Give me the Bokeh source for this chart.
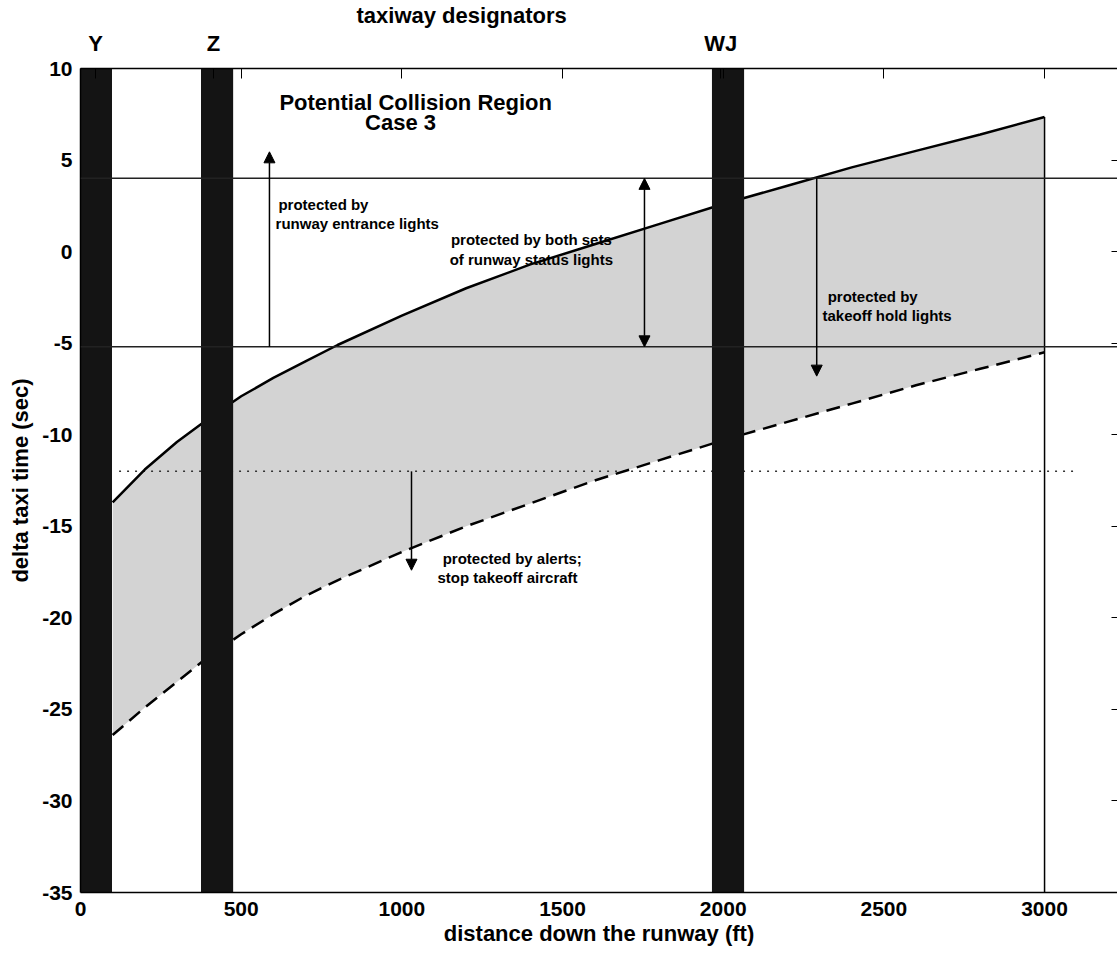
from bokeh.plotting import figure
from bokeh.models import (Range1d, LinearAxis, FixedTicker, Label, Arrow,
                          NormalHead, Span, Title)
from bokeh.embed import file_html
from bokeh.resources import INLINE

# ---------------- data ----------------
taxiway_names = ["Y", "Z", "WJ"]
taxiway_left = [-5, 375, 1965]
taxiway_right = [98, 475, 2065]
taxiway_label_x = [47, 414, 1992]

dist_ft = [100, 200, 300, 400, 500, 600, 700, 800, 1000, 1200, 1400,
           1600, 1800, 2000, 2200, 2400, 2600, 2800, 3000]
upper_sec = [-13.7, -11.9, -10.4, -9.1, -7.9, -6.9, -6.0, -5.1, -3.5, -2.0,
             -0.7, 0.4, 1.5, 2.6, 3.6, 4.6, 5.5, 6.4, 7.35]
lower_sec = [-26.4, -24.9, -23.5, -22.1, -20.9, -19.8, -18.8, -17.95, -16.4,
             -15.0, -13.75, -12.5, -11.4, -10.3, -9.3, -8.3, -7.3, -6.4, -5.5]

entrance_limit = 4.0
hold_limit = -5.2
alert_limit = -12.0
alert_line_x = [120, 3090]
runway_end = 3000

x_ticks = [0, 500, 1000, 1500, 2000, 2500, 3000]
y_ticks = [-35, -30, -25, -20, -15, -10, -5, 0, 5, 10]

arrow_x = [588, 1755, 2291, 1030]
arrow_y0 = [hold_limit, entrance_limit, entrance_limit, alert_limit]
arrow_y1 = [5.45, hold_limit, -6.8, -17.4]
arrow_both = [False, True, False, False]

# ---------------- figure ----------------
FONT = "Liberation Sans"
W, H = 1117, 956
p = figure(width=W, height=H, output_backend="svg", toolbar_location=None,
           x_range=Range1d(0, 3227), y_range=Range1d(-35, 10),
           min_border_left=80, min_border_right=0, min_border_top=66,
           min_border_bottom=64, x_axis_location=None, y_axis_location=None)
p.background_fill_color = "white"
p.border_fill_color = "white"
p.outline_line_color = None
p.xgrid.visible = False
p.ygrid.visible = False

p.title = Title(text="taxiway designators", align="left", offset=276,
                text_font=FONT, text_font_style="bold",
                text_font_size="22px", text_color="black", standoff=0)


def style_axis(ax):
    ax.axis_line_color = "black"
    ax.axis_line_width = 1.5
    ax.major_tick_line_color = "black"
    ax.major_tick_line_width = 1
    ax.minor_tick_line_color = None
    ax.major_label_text_font = FONT
    ax.major_label_text_font_style = "bold"
    ax.major_label_text_font_size = "21px"
    ax.major_label_text_color = "black"
    ax.major_tick_out = 0
    ax.axis_label_text_font = FONT
    ax.axis_label_text_font_style = "bold"
    ax.axis_label_text_font_size = "22px"
    ax.axis_label_text_color = "black"


bottom = LinearAxis(ticker=FixedTicker(ticks=x_ticks),
                    axis_label="distance down the runway (ft)")
style_axis(bottom)
bottom.major_tick_in = 0
bottom.major_label_standoff = 9
bottom.axis_label_standoff = 2
bottom.major_label_overrides = {t: str(t) for t in x_ticks}

left = LinearAxis(ticker=FixedTicker(ticks=y_ticks),
                  axis_label="delta taxi time (sec)")
style_axis(left)
left.major_tick_in = 0
left.major_label_standoff = 8
left.axis_label_standoff = 6
left.major_label_overrides = {t: str(t) for t in y_ticks}

# top axis: 500-ft inward ticks plus the taxiway designators
top_ticks = sorted(x_ticks + taxiway_label_x)
top = LinearAxis(ticker=FixedTicker(ticks=top_ticks))
style_axis(top)
top.major_tick_in = 10
top.major_label_standoff = 13
top.major_label_text_font_size = "22px"
top.major_label_overrides = {t: "" for t in x_ticks}
top.major_label_overrides.update(
    {lx: name for lx, name in zip(taxiway_label_x, taxiway_names)})

right = LinearAxis(ticker=FixedTicker(ticks=y_ticks))
style_axis(right)
right.axis_line_color = None
right.major_tick_in = 6
right.major_label_standoff = 0
right.major_label_overrides = {t: "" for t in y_ticks}

p.add_layout(bottom, "below")
p.add_layout(left, "left")
p.add_layout(top, "above")
p.add_layout(right, "right")

# shaded potential collision region
p.varea(x=dist_ft, y1=lower_sec, y2=upper_sec, fill_color="#d3d3d3",
        fill_alpha=1.0)

# threshold lines
for lim in (entrance_limit, hold_limit):
    p.add_layout(Span(location=lim, dimension="width", line_color="#222222",
                      line_width=1.5))
p.line(alert_line_x, [alert_limit, alert_limit], line_color="#333333",
       line_width=1.5, line_dash="2 6")

# curves
p.line(dist_ft, upper_sec, line_color="black", line_width=2.5)
p.line(dist_ft, lower_sec, line_color="black", line_width=2.5,
       line_dash="14 8")
p.segment(x0=[runway_end], y0=[-35], x1=[runway_end], y1=[upper_sec[-1]],
          line_color="black", line_width=1.5)

# taxiway bars
p.quad(left=taxiway_left, right=taxiway_right, bottom=-35, top=10,
       fill_color="#141414", line_color=None)

# arrows
for xa, ya0, ya1, both in zip(arrow_x, arrow_y0, arrow_y1, arrow_both):
    kw = dict(end=NormalHead(size=11, fill_color="black", line_color="black"),
              x_start=xa, y_start=ya0, x_end=xa, y_end=ya1,
              line_color="black", line_width=1.5)
    kw["start"] = (NormalHead(size=11, fill_color="black", line_color="black")
                   if both else None)
    p.add_layout(Arrow(**kw))


def lab(text, x, y, size, align="left"):
    p.add_layout(Label(x=x, y=y, text=text, text_font=FONT,
                       text_font_style="bold", text_font_size=size,
                       text_align=align, text_baseline="middle",
                       text_color="black"))


# annotations in the frame
lab("Potential Collision Region", 1043, 8.12, "22px", align="center")
lab("Case 3", 996, 7.05, "22px", align="center")
lab("protected by", 616, 2.56, "15px")
lab("runway entrance lights", 607, 1.53, "15px")
lab("protected by both sets", 1403, 0.65, "15px", align="center")
lab("of runway status lights", 1403, -0.44, "15px", align="center")
lab("protected by", 2325, -2.45, "15px")
lab("takeoff hold lights", 2309, -3.49, "15px")
lab("protected by alerts;", 1127, -16.74, "15px")
lab("stop takeoff aircraft", 1111, -17.78, "15px")

open("out.html", "w").write(file_html(p, INLINE))
